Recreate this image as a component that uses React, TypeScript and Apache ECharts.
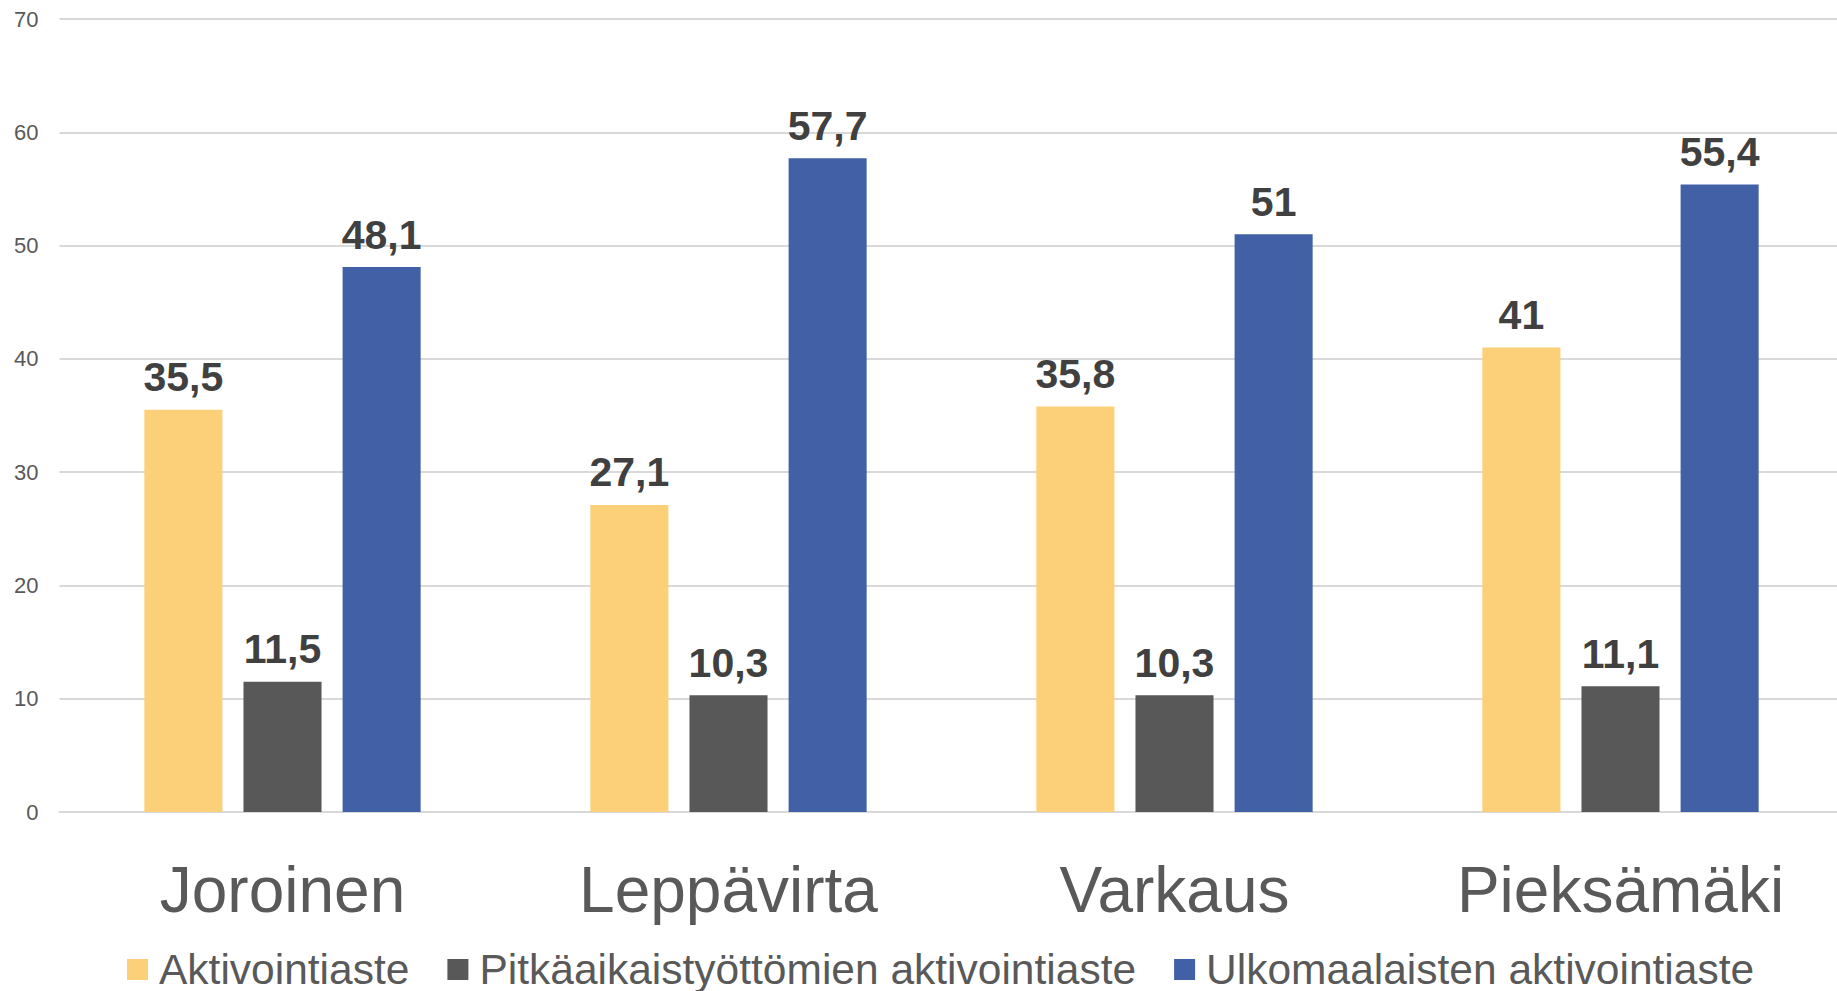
import React, { useEffect, useRef } from "react";
import * as echarts from "echarts";

const categories = ["Joroinen", "Leppävirta", "Varkaus", "Pieksämäki"];
const seriesNames = [
  "Aktivointiaste",
  "Pitkäaikaistyöttömien aktivointiaste",
  "Ulkomaalaisten aktivointiaste",
];
const aktivointi = [35.5, 27.1, 35.8, 41];
const pitkaaikais = [11.5, 10.3, 10.3, 11.1];
const ulkomaalaiset = [48.1, 57.7, 51, 55.4];
const colors = ["#FCCF79", "#585858", "#4260A5"];

const fmt = (v: number) => String(v).replace(".", ",");

export default function App() {
  const ref = useRef<HTMLDivElement>(null);
  useEffect(() => {
    document.body.style.margin = "0";
    const chart = echarts.init(ref.current!, null, { renderer: "svg" });
    const data = [aktivointi, pitkaaikais, ulkomaalaiset];
    chart.setOption({
      animation: false,
      color: colors,
      textStyle: { fontFamily: "Liberation Sans, Arial, sans-serif" },
      grid: {
        left: 59.5,
        width: 1784,
        top: 19,
        bottom: 179,
        containLabel: false,
        outerBoundsMode: "none",
      },
      legend: {
        left: 127,
        top: 948,
        padding: 0,
        icon: "rect",
        itemWidth: 21,
        itemHeight: 21,
        itemGap: 38,
        textStyle: {
          fontSize: 42.5,
          lineHeight: 40,
          color: "#595959",
          padding: [0, 0, 0, 6],
        },
        data: seriesNames,
      },
      xAxis: {
        type: "category",
        data: categories,
        axisLine: { show: true, lineStyle: { color: "#D9D9D9", width: 2 } },
        axisTick: { show: false },
        axisLabel: { fontSize: 64, color: "#595959", margin: 45.5 },
      },
      yAxis: {
        type: "value",
        min: 0,
        max: 70,
        interval: 10,
        axisLine: { show: false },
        axisTick: { show: false },
        axisLabel: { fontSize: 22, color: "#595959", margin: 21 },
        splitLine: { lineStyle: { color: "#D9D9D9", width: 2 } },
      },
      series: seriesNames.map((name, i) => ({
        name,
        type: "bar",
        data: data[i],
        barWidth: "17.5%",
        barGap: "27%",
        itemStyle: { color: colors[i] },
        label: {
          show: true,
          position: "top",
          distance: 12,
          fontSize: 41,
          fontWeight: "bold",
          color: "#404040",
          formatter: (p: any) => fmt(p.value),
        },
      })),
    });
    return () => chart.dispose();
  }, []);
  return (
    <div
      ref={ref}
      style={{ position: "absolute", left: 0, top: 0, width: 1837, height: 991 }}
    />
  );
}
